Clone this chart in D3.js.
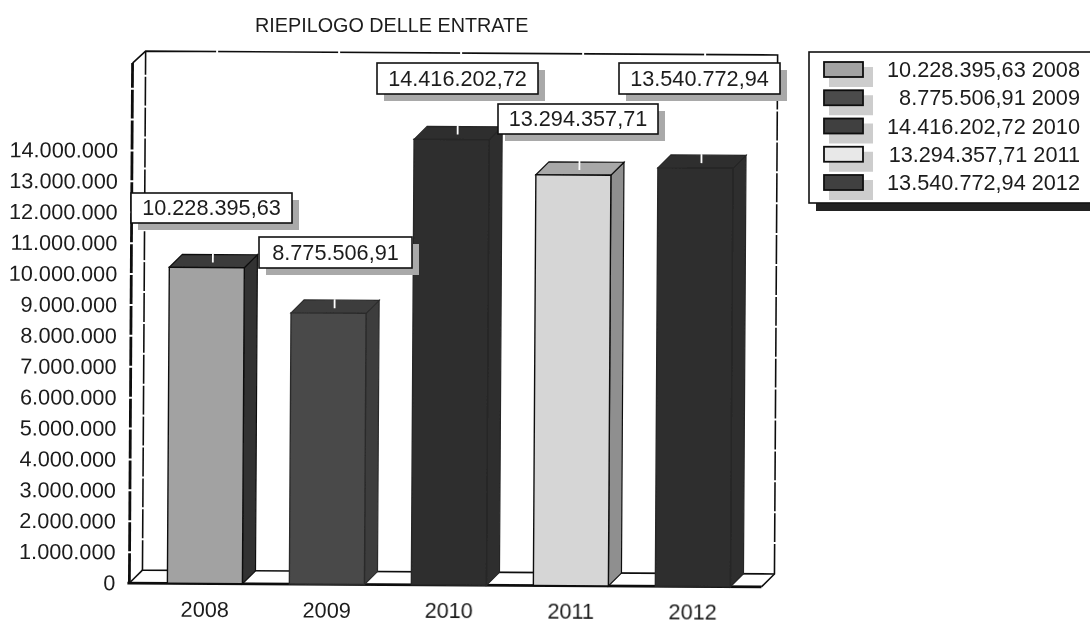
<!DOCTYPE html>
<html><head><meta charset="utf-8">
<script src="https://cdn.jsdelivr.net/npm/d3@7"></script>
<style>html,body{margin:0;padding:0;background:#fff}svg{display:block}text{font-family:"Liberation Sans",Arial,sans-serif;fill:#1c1c1c}</style>
</head><body><svg id="c" width="1090" height="624"></svg>
<script>
const years = ["2008","2009","2010","2011","2012"];
const values = [10228395.63, 8775506.91, 14416202.72, 13294357.71, 13540772.94];
const valueLabels = ["10.228.395,63","8.775.506,91","14.416.202,72","13.294.357,71","13.540.772,94"];
const yTicks = [0,1e6,2e6,3e6,4e6,5e6,6e6,7e6,8e6,9e6,10e6,11e6,12e6,13e6,14e6];
const title = "RIEPILOGO DELLE ENTRATE";

// styling and layout, separate from the data
const frontFill = ["#a2a2a2","#4a4a4a","#2f2f2f","#d6d6d6","#2f2f2f"];
const sideFill = ["#333333","#3c3c3c","#2f2f2f","#8f8f8f","#2f2f2f"];
const topFill = ["#3a3a3a","#3e3e3e","#2f2f2f","#a8a8a8","#2f2f2f"];
const barEdge = ["#111111","#2c2c2c","#262626","#111111","#262626"];
const swatchFill = ["#a2a2a2","#4b4b4b","#404040","#e8e8e8","#404040"];
const boxes = [[131,193,161,30],[259,237,153,31],[377,63,161,31],[498,104,160,30],[619,63,161,31]];
const D = 13, FS = 21.7;

const svg = d3.select("#c");
const soft = svg.append("defs").append("filter").attr("id","soft");
soft.append("feGaussianBlur").attr("stdDeviation",0.45);
const root = svg.append("g").attr("filter","url(#soft)");
root.append("rect").attr("width",1090).attr("height",624).attr("fill","#fff");
const g = root.append("g").attr("transform","rotate(0.35 450 320)");
const y = d3.scaleLinear().domain([0,17000000]).range([585,585-17*30.9]);
const x = d3.scaleBand().domain(years).range([169,732]).paddingInner(0.385).paddingOuter(0);
const x0=131, x1=763, yb=y(0), yt=65;

// walls and floor
const frame = g.append("g").attr("fill","none").attr("stroke","#111");
frame.append("path").attr("stroke-width",2.8).attr("d",`M${x0},${yb}V${yt}`);
frame.append("path").attr("stroke-width",1.6).attr("d",`M${x0},${yt}L${x0+D},${yt-D+1}H${x1+D}V${yb-D}L${x1},${yb}`);
frame.append("path").attr("stroke-width",1.6).attr("d",`M${x0+D},${yt-D+1}V${yb-D}H${x1+D}`);
frame.append("path").attr("stroke-width",1.6).attr("d",`M${x0},${yb}L${x0+D},${yb-D}`);
frame.append("path").attr("stroke-width",2.8).attr("d",`M${x0-2},${yb}H${x1}`);

// white tick gaps on the wall lines
const wallTicks = d3.range(1000000,17000000,1000000);
const gaps = g.append("g").attr("stroke","#fff").attr("stroke-width",2);
gaps.selectAll("line.a").data(wallTicks).join("line").attr("class","a")
  .attr("x1",x0-3).attr("x2",x0+3).attr("y1",d=>y(d)).attr("y2",d=>y(d));
gaps.selectAll("line.b").data(wallTicks).join("line").attr("class","b")
  .attr("x1",x0+D-2).attr("x2",x0+D+2).attr("y1",d=>y(d)-D).attr("y2",d=>y(d)-D);
gaps.selectAll("line.c").data(wallTicks).join("line").attr("class","c")
  .attr("x1",x1+D-2).attr("x2",x1+D+2).attr("y1",d=>y(d)-D).attr("y2",d=>y(d)-D);
gaps.selectAll("line.d").data(years).join("line").attr("class","d")
  .attr("x1",d=>x(d)+x.bandwidth()/2+9).attr("x2",d=>x(d)+x.bandwidth()/2+9)
  .attr("y1",yt-D-1).attr("y2",yt-D+3);

// axes
const fmt = d => d3.format(",")(d).replace(/,/g,".");
const ya = g.append("g").attr("transform","translate(124,0)").call(d3.axisLeft(y).tickValues(yTicks).tickFormat(fmt).tickSize(0).tickPadding(7));
ya.select(".domain").remove();
ya.selectAll("text").attr("font-size",FS).attr("fill","#1c1c1c");
const xa = g.append("g").attr("transform",`translate(0,${yb+18})`).call(d3.axisBottom(x).tickSize(0).tickPadding(0));
xa.select(".domain").remove();
xa.selectAll("text").attr("font-size",FS).attr("fill","#1c1c1c");

// bars
const bars = g.append("g").selectAll("g").data(values).join("g");
const bw = x.bandwidth();
bars.append("path").attr("fill",(d,i)=>sideFill[i]).attr("stroke",(d,i)=>barEdge[i]).attr("stroke-width",1.2)
  .attr("d",(d,i)=>{const l=x(years[i])+bw,t=y(d);return `M${l},${t}L${l+D},${t-D}V${yb-D}L${l},${yb}Z`;});
bars.append("path").attr("fill",(d,i)=>topFill[i]).attr("stroke",(d,i)=>barEdge[i]).attr("stroke-width",1.2)
  .attr("d",(d,i)=>{const l=x(years[i]),t=y(d);return `M${l},${t}L${l+D},${t-D}H${l+bw+D}L${l+bw},${t}Z`;});
bars.append("rect").attr("fill",(d,i)=>frontFill[i]).attr("stroke",(d,i)=>barEdge[i]).attr("stroke-width",1.4)
  .attr("x",(d,i)=>x(years[i])).attr("y",d=>y(d)).attr("width",bw).attr("height",d=>yb-y(d));
bars.append("line").attr("stroke","#fff").attr("stroke-width",1.8)
  .attr("x1",(d,i)=>x(years[i])+bw/2+6).attr("x2",(d,i)=>x(years[i])+bw/2+6)
  .attr("y1",d=>y(d)-D-1).attr("y2",d=>y(d)-D+8);

// value callouts
const co = root.append("g").selectAll("g").data(valueLabels).join("g");
co.append("rect").attr("fill","#a9a9a9").attr("x",(d,i)=>boxes[i][0]+7).attr("y",(d,i)=>boxes[i][1]+7)
  .attr("width",(d,i)=>boxes[i][2]).attr("height",(d,i)=>boxes[i][3]);
co.append("rect").attr("fill","#fff").attr("stroke","#111").attr("stroke-width",1.6)
  .attr("x",(d,i)=>boxes[i][0]).attr("y",(d,i)=>boxes[i][1]).attr("width",(d,i)=>boxes[i][2]).attr("height",(d,i)=>boxes[i][3]);
co.append("text").attr("font-size",FS).attr("text-anchor","middle")
  .attr("x",(d,i)=>boxes[i][0]+boxes[i][2]/2).attr("y",(d,i)=>boxes[i][1]+boxes[i][3]/2+7).text(d=>d);

// legend
const lg = root.append("g");
lg.append("rect").attr("x",816).attr("y",196).attr("width",274).attr("height",15).attr("fill","#222");
lg.append("rect").attr("x",809).attr("y",52).attr("width",283).attr("height",151).attr("fill","#fff").attr("stroke","#111").attr("stroke-width",1.6);
const rowY = d3.scalePoint().domain(years).range([70,183]);
const rows = lg.selectAll("g").data(years).join("g").attr("transform",d=>`translate(0,${rowY(d)})`);
rows.append("rect").attr("x",829).attr("y",-3).attr("width",44).attr("height",20).attr("fill","#cdcdcd");
rows.append("rect").attr("x",824).attr("y",-8).attr("width",39).attr("height",15).attr("fill",(d,i)=>swatchFill[i]).attr("stroke","#111").attr("stroke-width",1.8);
rows.append("text").attr("x",1080).attr("y",7).attr("text-anchor","end").attr("font-size",FS).text((d,i)=>valueLabels[i]+" "+d);

// title
root.append("text").attr("x",255).attr("y",32).attr("font-size",19.8).text(title);
</script></body></html>
